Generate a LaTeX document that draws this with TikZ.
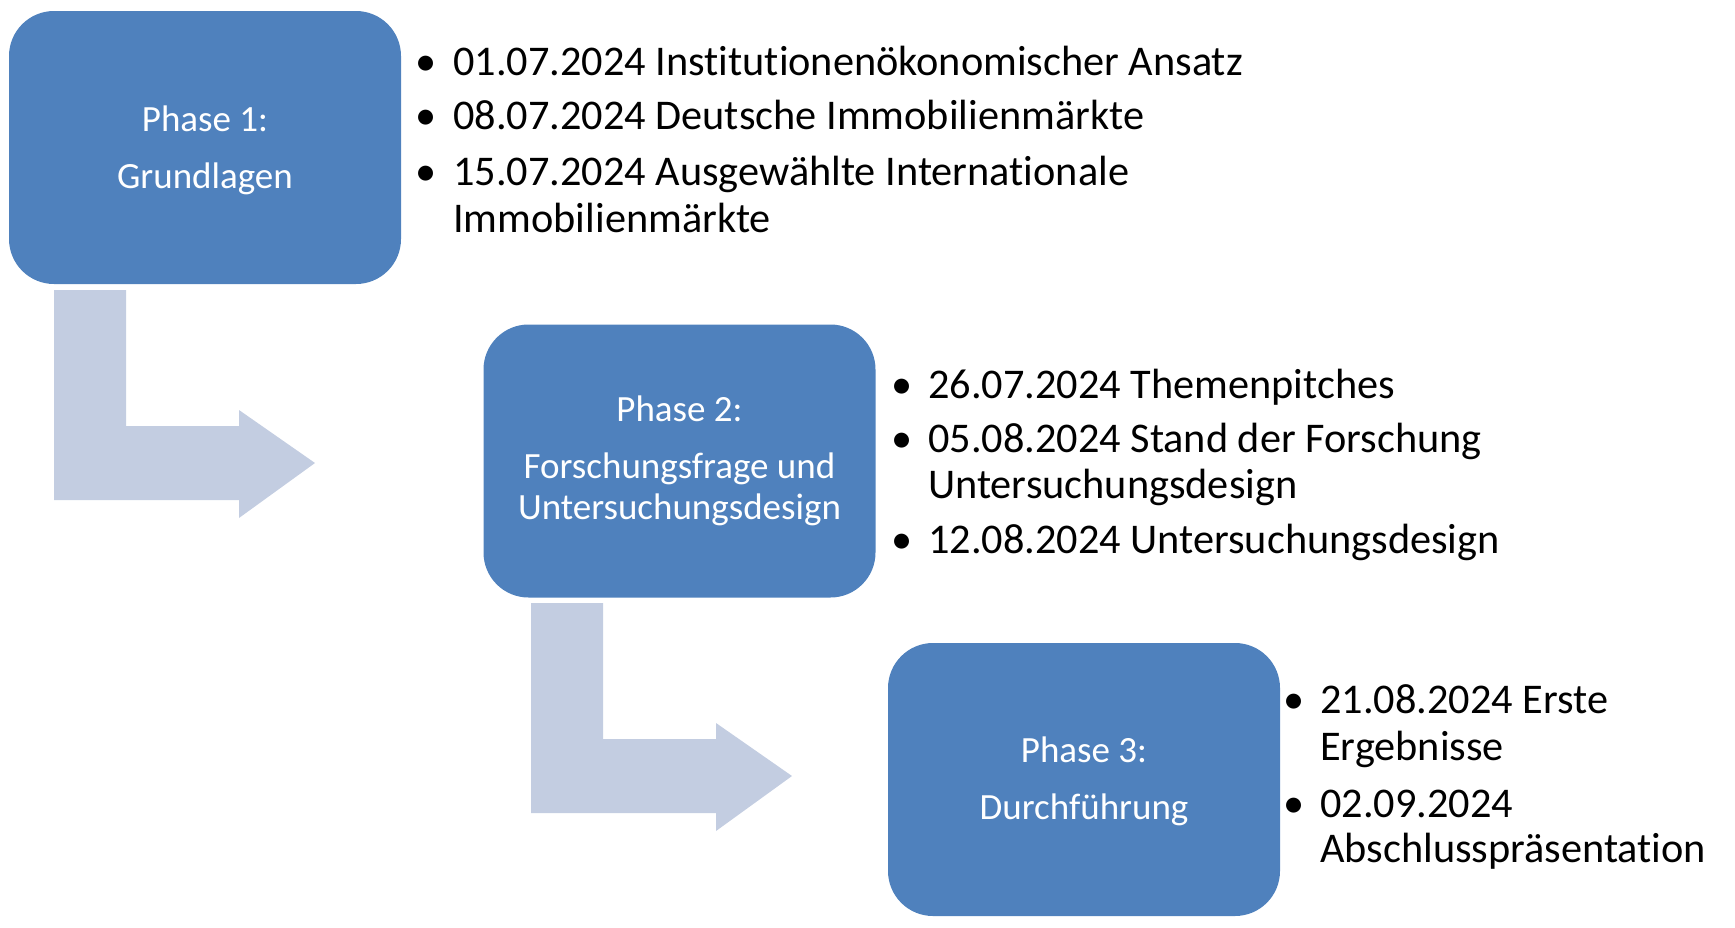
\documentclass[tikz,border=0pt]{standalone}
\usepackage{fontspec}
\setmainfont[Ligatures=NoCommon]{Carlito}
\definecolor{boxblue}{HTML}{4F81BD}
\definecolor{arrowfill}{HTML}{C3CDE1}
\tikzset{
  phasebox/.style={rectangle, rounded corners=45pt, fill=boxblue, draw=none,
    minimum width=392pt, minimum height=273pt, inner sep=0pt,
    text=white, align=center, font=\fontsize{37}{41}\selectfont},
  itemtext/.style={anchor=base west, inner sep=0pt, font=\fontsize{42.3}{46}\selectfont},
  bulletmark/.style={anchor=base, inner sep=0pt, font=\fontsize{42.3}{46}\selectfont},
  bentarr/.pic={\fill[arrowfill] (0,0) -- (72,0) -- (72,136) -- (185,136) -- (185,120)
      -- (261,173) -- (185,228) -- (185,210) -- (0,210) -- cycle;}
}
\begin{document}
\begin{tikzpicture}[x=1pt,y=-1pt]
\useasboundingbox (0,0) rectangle (1735,927);
% arrows
\pic (arrA) at (54,290) {bentarr};
\pic (arrB) at (531,603) {bentarr};
% boxes
\node[phasebox] (p1) at (205,147.5) {};
\node[text=white, align=center, font=\fontsize{37}{41}\selectfont] (p1t) at (205,150) {Phase 1:\\[16pt]Grundlagen};
\node[phasebox] (p2) at (679.5,461) {Phase 2:\\[16pt]Forschungsfrage und\\Untersuchungsdesign};
\node[phasebox] (p3) at (1084,779.5) {};
\node[text=white, align=center, font=\fontsize{37}{41}\selectfont] (p3t) at (1084,781.5) {Phase 3:\\[16pt]Durchführung};
% list 1
\node[bulletmark] (b1a) at (426,75) {•};
\node[itemtext] (t1a) at (453,75) {01.07.2024 Institutionenökonomischer Ansatz};
\node[bulletmark] (b1b) at (426,129) {•};
\node[itemtext] (t1b) at (453,129) {08.07.2024 Deutsche Immobilienmärkte};
\node[bulletmark] (b1c) at (426,185) {•};
\node[itemtext] (t1c) at (453,185) {15.07.2024 Ausgewählte Internationale};
\node[itemtext] (t1d) at (453,232) {Immobilienmärkte};
% list 2
\node[bulletmark] (b2a) at (902,398) {•};
\node[itemtext] (t2a) at (928,398) {26.07.2024 Themenpitches};
\node[bulletmark] (b2b) at (902,452) {•};
\node[itemtext] (t2b) at (928,452) {05.08.2024 Stand der Forschung};
\node[itemtext] (t2c) at (928,498) {Untersuchungsdesign};
\node[bulletmark] (b2c) at (902,553) {•};
\node[itemtext] (t2d) at (928,553) {12.08.2024 Untersuchungsdesign};
% list 3
\node[bulletmark] (b3a) at (1294,713) {•};
\node[itemtext] (t3a) at (1320,713) {21.08.2024 Erste};
\node[itemtext] (t3b) at (1320,760) {Ergebnisse};
\node[bulletmark] (b3b) at (1294,817) {•};
\node[itemtext] (t3c) at (1320,817) {02.09.2024};
\node[itemtext] (t3d) at (1320,862) {Abschlusspräsentation};
\end{tikzpicture}
\end{document}
